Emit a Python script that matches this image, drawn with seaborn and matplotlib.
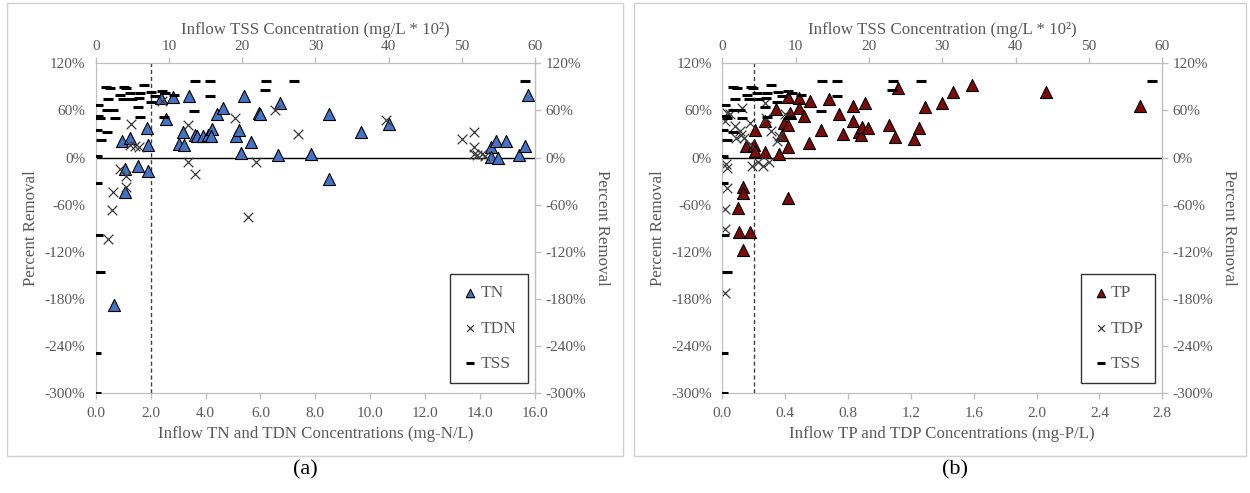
import matplotlib
matplotlib.use("Agg")
import matplotlib.pyplot as plt
import matplotlib.patches as patches
from matplotlib.ticker import FuncFormatter
import seaborn as sns

# Panel (a): nitrogen
tn_conc = [0.97, 1.25, 1.86, 1.92, 1.07, 1.07, 1.53, 1.90, 2.55, 2.38, 2.80, 3.40,
           3.17, 3.04, 3.20, 3.60, 3.70, 3.90, 4.10, 4.25, 4.20, 4.40, 4.65, 5.10,
           5.20, 5.30, 5.40, 5.65, 5.95, 5.98, 6.70, 6.65, 7.85, 8.51, 8.51, 9.67,
           10.70, 14.39, 14.39, 14.58, 14.67, 14.95, 15.40, 15.64, 15.76, 0.68]
tn_rem = [21, 25, 38, 16, -14, -44, -11, -17, 49, 76, 77, 78,
          32, 17, 16, 29, 27, 27, 29, 36, 28, 55, 63, 27,
          35, 6, 79, 20, 57, 55, 70, 3, 4, 55, -27, 32,
          43, 13, 1, 21, 0, 21, 3, 15, 80, -187]

tdn_conc = [1.27, 1.23, 1.43, 1.59, 0.89, 1.10, 1.10, 0.64, 0.58, 0.46, 2.40, 3.35,
            3.35, 3.62, 5.07, 5.84, 5.56, 6.53, 7.38, 10.58, 13.33, 13.76, 13.76,
            13.76, 13.88, 14.06, 14.17]
tdn_rem = [43, 16, 15, 13, -15, -23, -37, -44, -67, -103, 72, 41,
           -5, -21, 51, -6, -76, 60, 30, 48, 24, 32, 13,
           4, 3, 4, 2]

# Panel (b): phosphorus
tp_conc = [0.134, 0.134, 0.102, 0.108, 0.176, 0.134, 0.208, 0.148, 0.20, 0.208,
           0.27, 0.27, 0.34, 0.38, 0.36, 0.42, 0.39, 0.42, 0.42, 0.43, 0.42, 0.49,
           0.49, 0.52, 0.56, 0.55, 0.63, 0.68, 0.74, 0.77, 0.83, 0.83, 0.87, 0.88,
           0.89, 0.91, 0.93, 1.06, 1.10, 1.12, 1.22, 1.25, 1.29, 1.40, 1.47, 1.59,
           2.06, 2.66]
tp_rem = [-38, -45, -64, -95, -95, -118, 35, 15, 16, 8,
          7, 46, 62, 29, 4, 13, 44, 42, 77, 57, -52, 76,
          63, 53, 72, 18, 35, 75, 56, 30, 66, 46, 32, 29,
          39, 69, 38, 41, 26, 88, 24, 38, 64, 70, 83, 93,
          83, 66]

tdp_conc = [0.028, 0.017, 0.05, 0.123, 0.08, 0.11, 0.12, 0.09, 0.14, 0.176, 0.176,
            0.023, 0.028, 0.19, 0.23, 0.26, 0.30, 0.31, 0.35, 0.36, 0.27, 0.28,
            0.40, 0.028, 0.017, 0.017, 0.017]
tdp_rem = [57, 46, 55, 63, 40, 34, 29, 25, 25, 44, 17,
           -8, -13, -11, -6, -11, -5, 34, 21, 27, 69, 51,
           55, -39, -65, -91, -172]

# TSS (same in both panels, top axis, mg/L * 10^2)
tss_conc = [1.4, 2.0, 3.9, 4.2, 6.65, 0.37, 1.74, 3.35, 4.7, 6.1, 7.6,
            3.7, 4.95, 5.9, 7.5, 8.1, 9.0, 9.5, 10.7, 5.8, 1.5, 2.4,
            0.37, 0.6, 2.66, 6.1, 9.3, 0.14, 1.5, 0.7, 0.14, 0.14, 0.28,
            13.6, 15.6, 15.6, 13.4, 23.3, 23.1, 27.1, 0.6, 0.1, 0.1, 58.6]
tss_rem = [90, 88, 90, 88, 92, 67, 75, 80, 82, 82, 84,
           74, 75, 76, 71, 78, 85, 82, 80, 64, 61, 61,
           53, 51, 51, 52, 52, 35, 32, 23, 2, -32, -98,
           98, 98, 78, 59, 98, 86, 98, -145, -249, -299, 97]

y_ticks = [-300, -240, -180, -120, -60, 0, 60, 120]
tss_ticks = [0, 10, 20, 30, 40, 50, 60]

sns.set_style("white")
plt.rcParams["font.family"] = ["Liberation Serif", "DejaVu Serif"]

GRAY = "#595959"
SPINE = "#bfbfbf"
pct = FuncFormatter(lambda v, p: f"{v:.0f}%")


def draw_panel(fig, rect, xm, ym, mcolor, mlabel, xd, yd, dlabel,
               xmax, xstep, vline, xlabel, tag, tag_x):
    ax = fig.add_axes(rect)
    sns.scatterplot(x=xm, y=ym, ax=ax, marker="^", s=75, color=mcolor,
                    edgecolor="black", linewidth=0.8, label=mlabel, zorder=3)
    sns.scatterplot(x=xd, y=yd, ax=ax, marker="x", s=48, color="#3a3a3a",
                    linewidth=0.9, label=dlabel, zorder=3)
    ax.axhline(0, color="black", lw=1.0, zorder=2)
    ax.axvline(vline, color="#404040", lw=1.0, ls=(0, (3, 2)), zorder=2)
    ax.set_xlim(0, xmax)
    ax.set_ylim(-300, 120)
    n = int(round(xmax / xstep))
    ax.set_xticks([i * xstep for i in range(n + 1)])
    ax.xaxis.set_major_formatter(FuncFormatter(lambda v, p: f"{v:.1f}"))
    ax.set_yticks(y_ticks)
    ax.yaxis.set_major_formatter(pct)
    ax.set_xlabel(xlabel, fontsize=12.2, color=GRAY, labelpad=4)
    ax.set_ylabel("Percent Removal", fontsize=12.2, color=GRAY, labelpad=4)

    top = ax.twiny()
    sns.scatterplot(x=tss_conc, y=tss_rem, ax=top, marker="_", s=55,
                    color="black", linewidth=2.2, label="TSS", zorder=3)
    top.set_xlim(0, 60)
    top.set_xticks(tss_ticks)
    top.set_xlabel("Inflow TSS Concentration (mg/L * 10²)", fontsize=12.2,
                   color=GRAY, labelpad=4)

    sec = ax.secondary_yaxis("right")
    sec.set_yticks(y_ticks)
    sec.yaxis.set_major_formatter(pct)
    sec.set_ylabel("Percent Removal", fontsize=12.2, color=GRAY,
                   rotation=270, labelpad=17)

    for a in (ax, top, sec):
        for sp in a.spines.values():
            sp.set_color(SPINE)
        a.tick_params(colors=SPINE, labelcolor=GRAY, labelsize=11,
                      direction="out", length=4, width=1)
    ax.tick_params(axis="x", pad=6)

    h1, l1 = ax.get_legend_handles_labels()
    h2, l2 = top.get_legend_handles_labels()
    ax.get_legend().remove()
    top.get_legend().remove()
    leg = top.legend(h1 + h2, l1 + l2, loc="lower right",
                     bbox_to_anchor=(0.984, 0.031), borderaxespad=0,
                     frameon=True, fancybox=False, edgecolor="black",
                     fontsize=12.5, labelspacing=1.1, handletextpad=0.1,
                     handlelength=1.0, borderpad=0.65, markerscale=0.7)
    leg.get_frame().set_linewidth(1.0)
    for t in leg.get_texts():
        t.set_color(GRAY)

    fig.text(tag_x, 0.046, tag, fontsize=16, ha="center", va="center",
             color="black")


fig = plt.figure(figsize=(12.5, 4.93), dpi=100)

# panel frames
for x0, x1 in [(7, 623), (634, 1246)]:
    fig.patches.append(patches.Rectangle((x0 / 1250, 1 - 456 / 493),
                                         (x1 - x0) / 1250, 453 / 493,
                                         transform=fig.transFigure,
                                         fill=False, edgecolor="#d0d0d0",
                                         lw=1.0))

draw_panel(fig, [0.0766, 0.2022, 0.3514, 0.6694], tn_conc, tn_rem, "#4472c4",
           "TN", tdn_conc, tdn_rem, "TDN", 16.0, 2.0, 2.0,
           "Inflow TN and TDN Concentrations (mg-N/L)", "(a)", 0.244)
draw_panel(fig, [0.5778, 0.2022, 0.352, 0.6694], tp_conc, tp_rem, "#7b0c0c",
           "TP", tdp_conc, tdp_rem, "TDP", 2.8, 0.4, 0.2,
           "Inflow TP and TDP Concentrations (mg-P/L)", "(b)", 0.764)

fig.savefig("out.png", dpi=100)
